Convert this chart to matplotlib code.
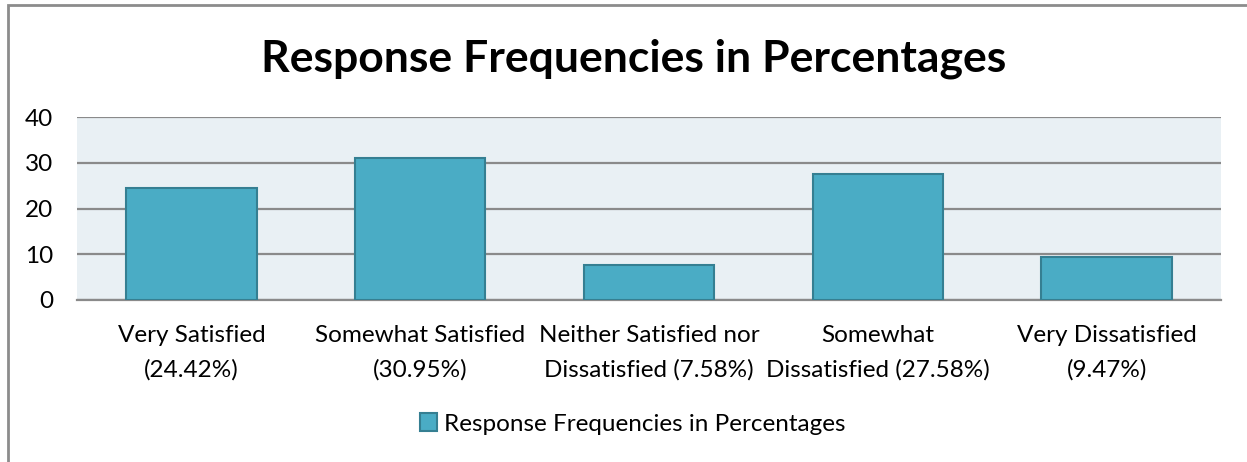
import numpy as np
import matplotlib.pyplot as plt
from matplotlib.patches import Rectangle

categories = ['Very Satisfied\n(24.42%)', 'Somewhat Satisfied\n(30.95%)',
              'Neither Satisfied nor\nDissatisfied (7.58%)',
              'Somewhat\nDissatisfied (27.58%)', 'Very Dissatisfied\n(9.47%)']
values = [24.42, 30.95, 7.58, 27.58, 9.47]
yticks = [0, 10, 20, 30, 40]
series_name = 'Response Frequencies in Percentages'

plt.rcParams['font.family'] = ['Lato', 'DejaVu Sans']

fig = plt.figure(figsize=(12.47, 4.62), dpi=100)
# outer chart border
fig.patches.append(Rectangle((8 / 1247, -0.1), 1.2, 1.1 - 5 / 462, transform=fig.transFigure,
                             fill=False, edgecolor='#8c8c8c', linewidth=2))

ax = fig.add_axes([77 / 1247, 1 - 300 / 462, (1221 - 77) / 1247, (300 - 117) / 462])
ax.set_facecolor('#e9f0f4')
x = np.arange(len(values))
ax.bar(x, values, width=0.57, color='#4aacc5', edgecolor='#357f92', linewidth=1.5,
       label=series_name, zorder=3)
ax.set_xlim(-0.5, len(values) - 0.5)
ax.set_ylim(0, 40)
ax.set_yticks(yticks)
ax.set_xticks(x)
ax.set_xticklabels(categories, fontsize=17.5, linespacing=1.75)
ax.tick_params(axis='both', length=0, colors='black')
ax.tick_params(axis='y', labelsize=17.5, pad=17)
ax.tick_params(axis='x', pad=18)
ax.grid(axis='y', color='#8a8a8a', linewidth=1.6, zorder=1)
ax.set_axisbelow(True)
for s in ['left', 'right', 'top']:
    ax.spines[s].set_visible(False)
ax.spines['bottom'].set_color('#8a8a8a')
ax.spines['bottom'].set_linewidth(1.6)

fig.text(0.508, 1 - 59 / 462, 'Response Frequencies in Percentages', ha='center', va='center',
         fontsize=32, fontweight='bold')

fig.legend(loc='center', bbox_to_anchor=(633 / 1247, 1 - 424 / 462), frameon=False, fontsize=17.5,
           handlelength=0.7, handleheight=0.7, handletextpad=0.3)

fig.savefig('out.png', dpi=100)
